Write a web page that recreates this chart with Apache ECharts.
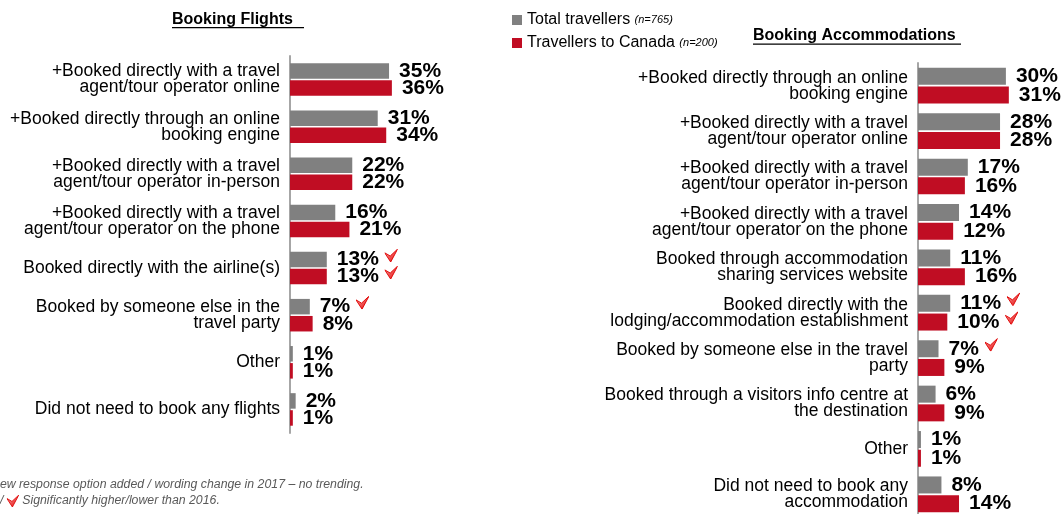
<!DOCTYPE html>
<html>
<head>
<meta charset="utf-8">
<script src="https://cdn.jsdelivr.net/npm/echarts@6/dist/echarts.min.js"></script>
<style>
  html, body { margin: 0; padding: 0; background: #fff; }
  #chart { width: 1063px; height: 514px; }
</style>
</head>
<body>
<div id="chart"></div>
<script>
// data
const seriesNames = ["Total travellers", "Travellers to Canada"]
const sampleSizes = ["n=765", "n=200"]

const flightCats = [
  "+Booked directly with a travel\nagent/tour operator online",
  "+Booked directly through an online\nbooking engine",
  "+Booked directly with a travel\nagent/tour operator in-person",
  "+Booked directly with a travel\nagent/tour operator on the phone",
  "Booked directly with the airline(s)",
  "Booked by someone else in the\ntravel party",
  "Other",
  "Did not need to book any flights",
]
const flightTotal = [35, 31, 22, 16, 13, 7, 1, 2]
const flightCanada = [36, 34, 22, 21, 13, 8, 1, 1]
// lower than 2016 markers
const flightTotalSig = [0, 0, 0, 0, 1, 1, 0, 0]
const flightCanadaSig = [0, 0, 0, 0, 1, 0, 0, 0]

const accomCats = [
  "+Booked directly through an online\nbooking engine",
  "+Booked directly with a travel\nagent/tour operator online",
  "+Booked directly with a travel\nagent/tour operator in-person",
  "+Booked directly with a travel\nagent/tour operator on the phone",
  "Booked through accommodation\nsharing services website",
  "Booked directly with the\nlodging/accommodation establishment",
  "Booked by someone else in the travel\nparty",
  "Booked through a visitors info centre at\nthe destination",
  "Other",
  "Did not need to book any\naccommodation",
]
const accomTotal = [30, 28, 17, 14, 11, 11, 7, 6, 1, 8]
const accomCanada = [31, 28, 16, 12, 16, 10, 9, 9, 1, 14]
const accomTotalSig = [0, 0, 0, 0, 0, 1, 1, 0, 0, 0]
const accomCanadaSig = [0, 0, 0, 0, 0, 1, 0, 0, 0, 0]

const GRAY = "#808080"
const RED = "#C00D23"
const FONT = "Liberation Sans, Arial, sans-serif"

const arrowSvg =
  "data:image/svg+xml;charset=utf-8," +
  encodeURIComponent(
    '<svg xmlns="http://www.w3.org/2000/svg" width="14" height="14" viewBox="0 0 14 14">' +
      '<defs><linearGradient id="g" x1="0" y1="0" x2="1" y2="1"><stop offset="0" stop-color="#ffb0b0"/><stop offset="1" stop-color="#e00000"/></linearGradient></defs>' +
      '<path d="M0 4 L6 7.5 L14 0 L6.5 14 Z" fill="url(#g)" stroke="#e00000" stroke-width="1"/></svg>'
  )

const richArrow = {
  a: { width: 13, height: 13, verticalAlign: "top", backgroundColor: { image: arrowSvg } },
}

function barSeries(name, data, sig, axisIdx, color, barWidth) {
  return {
    name: name,
    type: "bar",
    xAxisIndex: axisIdx,
    yAxisIndex: axisIdx,
    data: data,
    barWidth: barWidth,
    barGap: "10%",
    itemStyle: { color: color },
    label: {
      show: true,
      position: "right",
      distance: 10,
      color: "#000",
      fontFamily: FONT,
      fontWeight: "bold",
      fontSize: 21,
      formatter: function (p) {
        return p.value + "%" + (sig[p.dataIndex] ? " {a|}" : "")
      },
      rich: richArrow,
    },
    animation: false,
  }
}

function catAxis(gridIdx, cats) {
  return {
    type: "category",
    gridIndex: gridIdx,
    data: cats,
    inverse: true,
    axisLine: { show: true, lineStyle: { color: "#A6A6A6", width: 2 } },
    axisTick: { show: false },
    axisLabel: {
      color: "#000",
      fontFamily: FONT,
      fontSize: 17.5,
      lineHeight: 16,
      margin: 10,
      align: "right",
    },
  }
}

let myChart = echarts.init(document.getElementById("chart"))
myChart.setOption({
  animation: false,
  textStyle: { fontFamily: FONT },
  legend: {
    orient: "vertical",
    left: 512,
    top: 12,
    padding: 0,
    itemGap: 7,
    icon: "rect",
    itemWidth: 10,
    itemHeight: 10,
    data: seriesNames,
    formatter: function (name) {
      return name + " {n|(" + sampleSizes[seriesNames.indexOf(name)] + ")}"
    },
    textStyle: {
      color: "#000",
      fontFamily: FONT,
      fontSize: 16,
      rich: {
        n: { fontSize: 11, fontStyle: "italic", color: "#000", fontFamily: FONT },
      },
    },
  },
  grid: [
    { left: 290, top: 56, width: 283, height: 377, outerBoundsMode: "none" },
    { left: 918, top: 63, width: 293, height: 454, outerBoundsMode: "none" },
  ],
  xAxis: [
    { type: "value", gridIndex: 0, min: 0, max: 100, show: false },
    { type: "value", gridIndex: 1, min: 0, max: 100, show: false },
  ],
  yAxis: [catAxis(0, flightCats), catAxis(1, accomCats)],
  series: [
    barSeries(seriesNames[0], flightTotal, flightTotalSig, 0, GRAY, 15.5),
    barSeries(seriesNames[1], flightCanada, flightCanadaSig, 0, RED, 15.5),
    barSeries(seriesNames[0], accomTotal, accomTotalSig, 1, GRAY, 17),
    barSeries(seriesNames[1], accomCanada, accomCanadaSig, 1, RED, 17),
  ],
  graphic: [
    {
      type: "text",
      left: 172,
      top: 12,
      style: { text: "Booking Flights", font: "bold 16px " + FONT, fill: "#000" },
    },
    { type: "rect", shape: { x: 172, y: 27, width: 132, height: 1.2 }, style: { fill: "#000" } },
    {
      type: "text",
      left: 753,
      top: 28,
      style: { text: "Booking Accommodations", font: "bold 16px " + FONT, fill: "#000" },
    },
    { type: "rect", shape: { x: 753, y: 43.5, width: 208, height: 1.2 }, style: { fill: "#000" } },
    {
      type: "text",
      x: -9,
      y: 479,
      style: {
        text: "New response option added / wording change in 2017 \u2013 no trending.",
        font: "italic 12.3px " + FONT,
        fill: "#595959",
      },
    },
    {
      type: "text",
      x: 0,
      y: 495,
      style: {
        text: "/ {a|} Significantly higher/lower than 2016.",
        font: "italic 12.3px " + FONT,
        fill: "#595959",
        rich: {
          a: { width: 12, height: 12, backgroundColor: { image: arrowSvg } },
        },
      },
    },
  ],
})
</script>
</body>
</html>
